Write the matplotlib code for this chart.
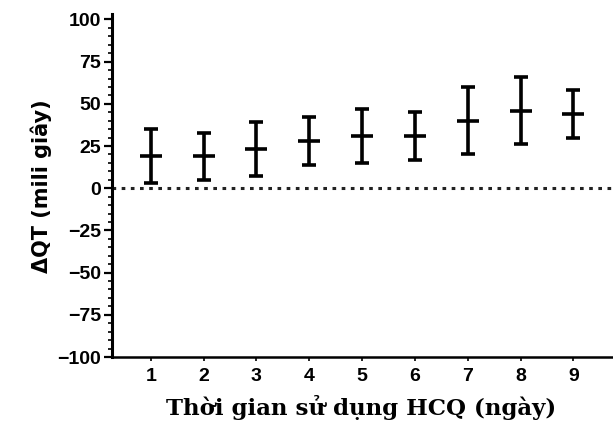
import matplotlib
matplotlib.use("Agg")
import matplotlib.pyplot as plt
from matplotlib.ticker import MultipleLocator

days = [1, 2, 3, 4, 5, 6, 7, 8, 9]
mean_dqt = [19, 19, 23, 28, 31, 31, 40, 46, 44]
err_dqt = [16, 14, 16, 14, 16, 14, 20, 20, 14]
y_ticks = [-100, -75, -50, -25, 0, 25, 50, 75, 100]

tick_font = dict(family=["Liberation Sans", "DejaVu Sans"], weight="bold", size=14)

fig = plt.figure(figsize=(6.13, 4.23), dpi=100)
ax = fig.add_axes([0.183, 0.156, 0.83, 0.81])

ax.errorbar(days, mean_dqt, yerr=err_dqt, fmt="_", color="black",
            markersize=16, markeredgewidth=2.6, elinewidth=2.6,
            capsize=5, capthick=2.6)
ax.axhline(0, color="#222222", linestyle=":", linewidth=2.2, dashes=(1.2, 1.8))

ax.set_xlim(0.27, 9.9)
ax.set_ylim(-100, 103)
ax.set_xticks(days)
ax.set_yticks(y_ticks)
ax.yaxis.set_minor_locator(MultipleLocator(5))

for side in ("top", "right"):
    ax.spines[side].set_visible(False)
ax.spines["left"].set_linewidth(2.2)
ax.spines["bottom"].set_linewidth(1.8)
ax.tick_params(axis="y", which="major", length=6, width=1.6, direction="out", pad=2)
ax.tick_params(axis="y", which="minor", length=3, width=1.2, direction="out")
ax.tick_params(axis="x", length=3, width=1.2, direction="out", pad=5)

ax.set_xticklabels([str(d) for d in days], fontdict=tick_font)
ax.set_yticklabels([str(v).replace("-", "\u2212") for v in y_ticks], fontdict=tick_font)

ax.set_xlabel("Thời gian sử dụng HCQ (ngày)", family=["DejaVu Serif"],
              weight="bold", size=16.5)
ax.xaxis.set_label_coords(0.49, -0.112)
ax.set_ylabel("ΔQT (mili giây)", family=["DejaVu Sans"],
              weight="bold", size=15, labelpad=4)

fig.savefig("out.png", dpi=100)
